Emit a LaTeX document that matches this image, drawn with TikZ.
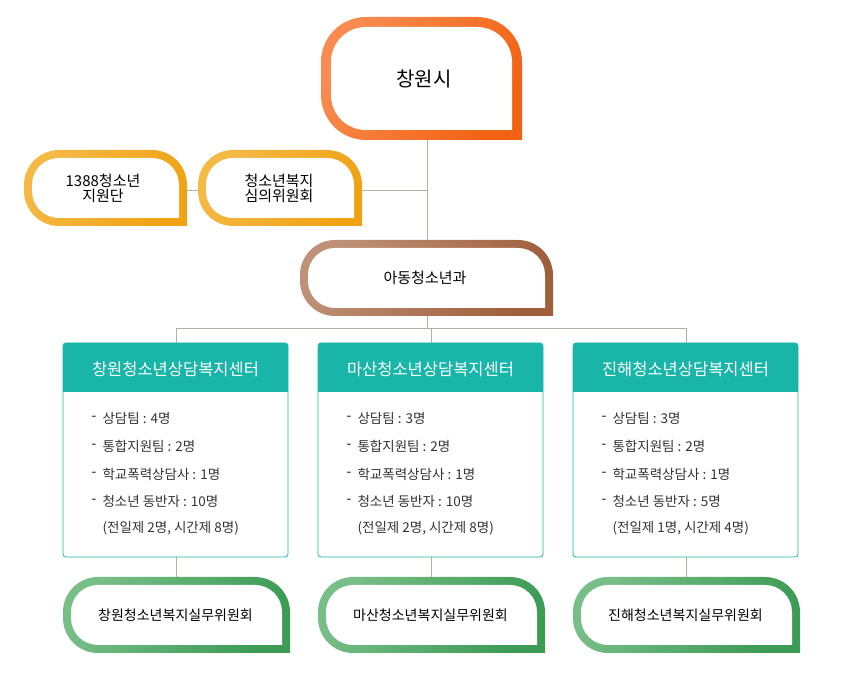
\documentclass[tikz,border=0pt]{standalone}
\usepackage{fontspec}
\setmainfont{Noto Sans CJK KR}
\definecolor{lnc}{HTML}{B8AF9E}
\definecolor{teal1}{HTML}{1AB5A9}
\newcommand\tabshape[7]{%
  \shade[#7] (#3,#2) -- ({#1+#5},#2) arc[start angle=270,end angle=180,radius=#5] -- (#1,{#4-#5}) arc[start angle=180,end angle=90,radius=#5] -- ({#3-#5},#4) arc[start angle=90,end angle=0,radius=#5] -- cycle;
  \fill[white] ({#3-#6},{#2+#6}) -- ({#1+#5},{#2+#6}) arc[start angle=270,end angle=180,radius={#5-#6}] -- ({#1+#6},{#4-#5}) arc[start angle=180,end angle=90,radius={#5-#6}] -- ({#3-#5},{#4-#6}) arc[start angle=90,end angle=0,radius={#5-#6}] -- cycle;
}
\tikzset{
  lbl/.style={font=\fontsize{15}{18}\selectfont, align=center, text=black},
  li/.style={anchor=west, font=\fontsize{13.5}{16}\selectfont, text=black!80},
  hd/.style={font=\fontsize{16.5}{20}\selectfont, text=white},
  conn/.style={lnc, line width=0.8pt}
}
\begin{document}
\begin{tikzpicture}[x=1pt,y=1pt]
\useasboundingbox (0,0) rectangle (852,677);
% connectors
\coordinate (top) at (427,537);
\coordinate (mid) at (427,437);
\coordinate (j1) at (427,487);
\coordinate (h0) at (187,487);
\draw[conn] (top) -- (mid);
\draw[conn] (j1) -- (h0);
\coordinate (bj) at (427,349);
\draw[conn] (427,361) -- (bj);
\draw[conn] (176,334) |- (686,349) -- (686,334);
\draw[conn] (431,349) -- (431,334);
\foreach \x in {176,431,686} \draw[conn] (\x,120) -- (\x,100);
% top shapes
\tabshape{321}{537}{522}{660}{45}{10}{left color={rgb,255:red,248;green,140;blue,80}, right color={rgb,255:red,242;green,98;blue,20}, shading angle=60}
\node[lbl, font=\fontsize{20}{24}\selectfont] (cw) at (424,598) {창원시};
\tabshape{24}{451}{187}{527}{35}{8}{left color={rgb,255:red,245;green,185;blue,70}, right color={rgb,255:red,239;green,163;blue,20}, shading angle=60}
\node[lbl] (a1) at (103,489) {1388청소년\\[-3pt]지원단};
\tabshape{198}{451}{362}{527}{35}{8}{left color={rgb,255:red,245;green,185;blue,70}, right color={rgb,255:red,239;green,163;blue,20}, shading angle=60}
\node[lbl] (a2) at (279,489) {청소년복지\\[-3pt]심의위원회};
\tabshape{300}{361}{553}{437}{35}{8}{left color={rgb,255:red,190;green,145;blue,120}, right color={rgb,255:red,160;green,95;blue,60}, shading angle=60}
\node[lbl] (ad) at (425,399) {아동청소년과};
% center boxes
\foreach \bl/\nm/\va/\vb/\vc/\vd/\ve/\vf in {
  63/창원/4/2/1/10/2/8,
  318/마산/3/2/1/10/2/8,
  573/진해/3/2/1/5/1/4}{
  \pgfmathsetmacro\br{\bl+225}
  \pgfmathsetmacro\bc{\bl+112.5}
  \draw[teal1, line width=0.8pt, fill=white, rounded corners=3pt] (\bl,120) rectangle (\br,334);
  \fill[teal1, rounded corners=3pt] (\bl,285) |- (\br,334) -- (\br,285) -- cycle;
  \fill[teal1] (\bl,285) rectangle (\br,300);
  \node[hd] at (\bc,308) {{\nm}청소년상담복지센터};
  \pgfmathsetmacro\bd{\bl+25}
  \pgfmathsetmacro\bt{\bl+36}
  \foreach \y/\t in {259/상담팀 : {\va}명, 231/통합지원팀 : {\vb}명, 203/학교폭력상담사 : {\vc}명, 176/청소년 동반자 : {\vd}명}{
    \node[li, text=black] at (\bd,\y) {-};
    \node[li] at (\bt,\y) {\t};
  }
  \node[li] at (\bt,149) {(전일제 {\ve}명, 시간제 {\vf}명)};
  \pgfmathsetmacro\gr{\bl+227}
  \tabshape{\bl}{24}{\gr}{100}{35}{8}{left color={rgb,255:red,120;green,190;blue,135}, right color={rgb,255:red,60;green,155;blue,85}, shading angle=60}
  \node[lbl, font=\fontsize{14}{17}\selectfont] at (\bc,62) {{\nm}청소년복지실무위원회};
}
\end{tikzpicture}
\end{document}
